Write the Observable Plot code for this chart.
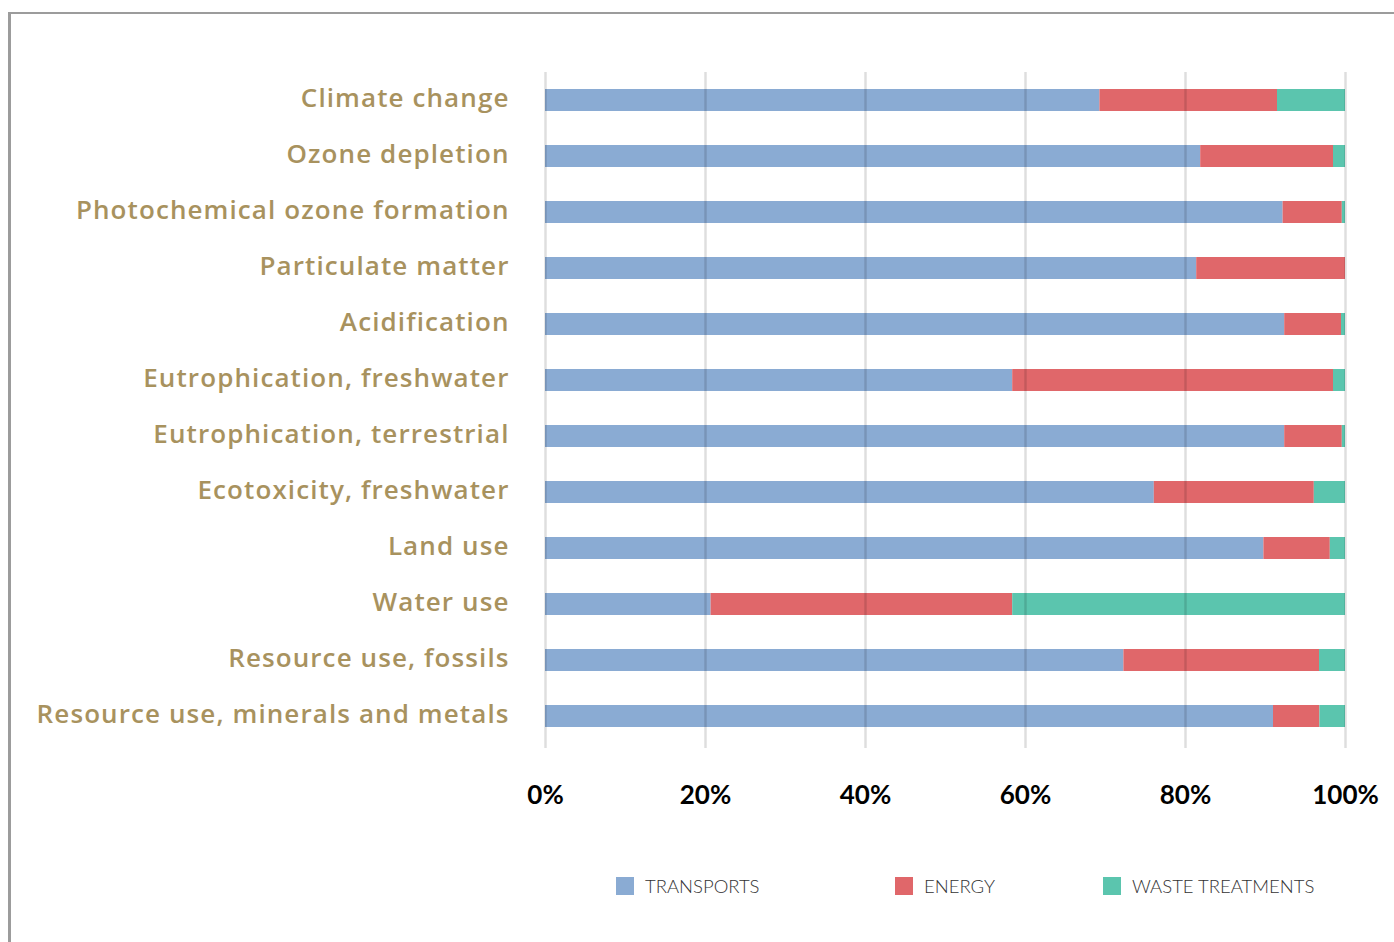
<!DOCTYPE html>
<html>
<head>
<meta charset="utf-8">
<script src="https://cdn.jsdelivr.net/npm/d3@7"></script>
<script src="https://cdn.jsdelivr.net/npm/@observablehq/plot@0.6"></script>
<style>
  html, body { margin: 0; padding: 0; background: #fff; }
  #wrap { position: relative; width: 1394px; height: 942px; overflow: hidden; }
  #frame { position: absolute; left: 8px; top: 12px; width: 1500px; height: 1000px;
           border-left: 3px solid #9c9c9c; border-top: 2px solid #9c9c9c; box-sizing: border-box; }
  #chart { position: absolute; left: 0; top: 0; }
  #legend { position: absolute; top: 876px; left: 0; width: 1394px; height: 20px;
            font-family: Lato, sans-serif; font-weight: 300; font-size: 18.5px; color: #333; }
  .item { position: absolute; top: 0; display: flex; align-items: center; height: 20px; white-space: nowrap; }
  .sw { width: 18px; height: 18px; margin-right: 11px; }
  .ylab text { letter-spacing: 1.1px; }
</style>
</head>
<body>
<div id="wrap">
  <div id="frame"></div>
  <div id="chart"></div>
  <div id="legend"></div>
</div>
<script>
const categories = [
  "Climate change",
  "Ozone depletion",
  "Photochemical ozone formation",
  "Particulate matter",
  "Acidification",
  "Eutrophication, freshwater",
  "Eutrophication, terrestrial",
  "Ecotoxicity, freshwater",
  "Land use",
  "Water use",
  "Resource use, fossils",
  "Resource use, minerals and metals"
];
const seriesNames = ["TRANSPORTS", "ENERGY", "WASTE TREATMENTS"];
const seriesColors = ["#8aabd3", "#e0676a", "#5bc5ae"];
const transports = [69.3, 81.9, 92.2, 81.4, 92.4, 58.4, 92.4, 76.1, 89.8, 20.7, 72.3, 91.0];
const energy     = [22.2, 16.6, 7.4, 18.6, 7.1, 40.1, 7.2, 20.0, 8.3, 37.7, 24.45, 5.8];
const waste      = [8.5, 1.5, 0.4, 0.0, 0.5, 1.5, 0.4, 3.9, 1.9, 41.6, 3.25, 3.2];
const xTicks = [0, 20, 40, 60, 80, 100];

const seriesValues = [transports, energy, waste];
const data = [];
categories.forEach((c, i) => {
  seriesNames.forEach((s, j) => {
    data.push({category: c, series: s, value: seriesValues[j][i]});
  });
});

const W = 1394, H = 840;
const chart = Plot.plot({
  width: W,
  height: H,
  marginLeft: 545,
  marginRight: 49,
  marginTop: 70,
  marginBottom: H - 745,
  style: {background: "transparent", overflow: "visible"},
  x: {domain: [0, 100], ticks: xTicks, axis: null, label: null},
  y: {domain: categories, paddingInner: 0.61, paddingOuter: 0.305, axis: null, label: null},
  color: {domain: seriesNames, range: seriesColors},
  marks: [
    Plot.barX(data, Plot.stackX({x: "value", y: "category", fill: "series", order: null})),
    Plot.ruleX(xTicks, {stroke: "#000", strokeOpacity: 0.13, strokeWidth: 2.5, insetTop: 2, insetBottom: -3}),
    Plot.axisY({
      label: null,
      className: "ylab",
      tickSize: 0, tickPadding: 36, fontSize: 26, dy: -2,
      fill: "#a8925e",
      fontFamily: "'Open Sans', sans-serif", fontWeight: 600
    }),
    Plot.axisX({
      label: null,
      ticks: xTicks, tickSize: 0, tickPadding: 40, fontSize: 26,
      tickFormat: d => d + "%",
      fill: "#000",
      fontFamily: "Lato, sans-serif", fontWeight: 700
    })
  ]
});
document.getElementById("chart").appendChild(chart);

const legend = document.getElementById("legend");
const legendLeft = [616, 895, 1103];
seriesNames.forEach((s, j) => {
  const it = document.createElement("div");
  it.className = "item";
  it.style.left = legendLeft[j] + "px";
  const sw = document.createElement("div");
  sw.className = "sw";
  sw.style.background = seriesColors[j];
  const tx = document.createElement("span");
  tx.textContent = s;
  it.appendChild(sw);
  it.appendChild(tx);
  legend.appendChild(it);
});
</script>
</body>
</html>
